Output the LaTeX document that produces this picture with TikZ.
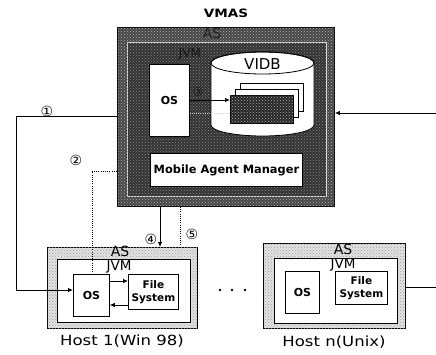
\documentclass[tikz,border=0pt]{standalone}
\usepackage{fontspec}
\setmainfont{DejaVu Sans}
\newfontfamily\widefont[FakeStretch=1.18]{DejaVu Sans}
\usetikzlibrary{arrows.meta,patterns}
\begin{document}
\begin{tikzpicture}[x=1pt,y=-1pt,
  box/.style={draw=black, line width=0.8pt, fill=white, inner sep=0pt, anchor=north west},
  darkband/.style={draw=black, line width=0.9pt, fill=black!72, inner sep=0pt, anchor=north west,
    postaction={pattern=crosshatch dots, pattern color=white!70!black}},
  darkcore/.style={draw=white!85!black, line width=0.7pt, fill=black!80, inner sep=0pt, anchor=north west,
    postaction={pattern=crosshatch dots, pattern color=white!55!black}},
  lightband/.style={draw=black, line width=0.8pt, fill=gray!22, inner sep=0pt, anchor=north west,
    postaction={pattern=crosshatch dots, pattern color=gray!80}},
  arr/.style={-{Latex[length=5pt,width=4.5pt]}, line width=0.8pt},
  dotline/.style={line width=0.7pt, dash pattern=on 1pt off 1.2pt},
  num/.style={font=\fontsize{14}{14}\selectfont, inner sep=0pt},
  lbl/.style={inner sep=0pt, align=center},
  page/.style={draw=black, line width=0.7pt, inner sep=0pt, anchor=north west}
]
\useasboundingbox (0,0) rectangle (436,354);

% ---------- VMAS server ----------
\node[lbl, font=\widefont\bfseries\fontsize{11.5}{12}\selectfont] (vmastitle) at (226,13) {VMAS};
\node[darkband, minimum width=217pt, minimum height=179pt] (vmas) at (117,27) {};
\node[darkcore, minimum width=199pt, minimum height=154pt] (vjvm) at (127,42) {};
\node[lbl, text=black!88, font=\fontsize{14}{14}\selectfont] (vas) at (212,33) {AS};
\node[lbl, text=black!92, font=\fontsize{12}{12}\selectfont] (vjvmlbl) at (190,54) {JVM};

\node[box, minimum width=40pt, minimum height=72pt] (vos) at (149,64) {};
\node[lbl, font=\bfseries\fontsize{11}{11}\selectfont] at (vos.center) {OS};

% VIDB cylinder
\draw[fill=white, line width=0.8pt] (211,63) -- (211,125)
  arc[start angle=180, end angle=360, x radius=51.5pt, y radius=11pt]
  -- (314,63) arc[start angle=0, end angle=180, x radius=51.5pt, y radius=11pt] -- cycle;
\draw[line width=0.8pt] (262.5,63) ellipse[x radius=51.5pt, y radius=11pt];
\node[lbl, font=\fontsize{15}{15}\selectfont] (vidb) at (262.5,64) {VIDB};

% stacked agent records
\node[page, fill=white, minimum width=63pt, minimum height=28pt] (pageback) at (240,83) {};
\node[page, fill=white, minimum width=63pt, minimum height=28pt] (pagemid) at (235,89) {};
\node[page, fill=black!85, minimum width=63pt, minimum height=28pt,
  postaction={pattern=crosshatch dots, pattern color=gray!60}] (pagefront) at (230,95) {};

\node[box, minimum width=152pt, minimum height=33pt] (mam) at (150,153) {};
\node[lbl, font=\bfseries\fontsize{11.4}{12}\selectfont] at (mam.center) {Mobile Agent Manager};

\coordinate (r1) at (0,100);
\coordinate (r2) at (0,113);
\draw[arr] (r1 -| vos.east) -- (r1 -| pagefront.west);
\draw[dotline, white!80!black] (r2 -| pagefront.west) -- (r2 -| vos.east);
\node[num, font=\fontsize{12}{12}\selectfont, text=black!92] (n3) at (198,92) {③};

% ---------- Host 1 ----------
\node[lightband, minimum width=150pt, minimum height=81pt] (h1as) at (47,247) {};
\node[box, line width=0.7pt, minimum width=133pt, minimum height=63pt] (h1jvm) at (57,259) {};
\node[lbl, font=\fontsize{14}{14}\selectfont] at (120,251) {AS};
\node[lbl, font=\fontsize{13.5}{14}\selectfont] at (119,267) {JVM};
\node[box, minimum width=36pt, minimum height=42pt] (h1os) at (73,274) {};
\node[lbl, font=\bfseries\fontsize{11}{11}\selectfont] at (h1os.center) {OS};
\node[box, minimum width=50pt, minimum height=35pt] (h1fs) at (128,274) {};
\node[lbl, font=\bfseries\fontsize{10.5}{13}\selectfont] at (h1fs.center) {File\\System};

\coordinate (q1) at (0,281);
\coordinate (q2) at (0,305);
\draw[arr] (q1 -| h1os.east) -- (q1 -| h1fs.west);
\draw[arr] (q2 -| h1fs.west) -- (q2 -| h1os.east);

\node[lbl, font=\widefont\fontsize{14}{14}\selectfont] (h1lbl) at (122,341) {Host 1(Win 98)};

% ---------- Host n ----------
\node[lightband, minimum width=142pt, minimum height=85pt] (hnas) at (263,243) {};
\node[box, line width=0.7pt, minimum width=123pt, minimum height=65pt] (hnjvm) at (274,258) {};
\node[lbl, font=\fontsize{14}{14}\selectfont] at (343,249) {AS};
\node[lbl, font=\fontsize{13.5}{14}\selectfont] at (343,264.5) {JVM};
\node[box, minimum width=34pt, minimum height=42pt] (hnos) at (285,271) {};
\node[lbl, font=\bfseries\fontsize{11}{11}\selectfont] at (hnos.center) {OS};
\node[box, minimum width=52pt, minimum height=33pt] (hnfs) at (335,271) {};
\node[lbl, font=\bfseries\fontsize{10.5}{13}\selectfont] at (hnfs.center) {File\\System};

\node[lbl, font=\widefont\fontsize{14}{14}\selectfont] (hnlbl) at (334,342) {Host n(Unix)};

% ellipsis between hosts
\foreach \dx in {220,232,245} \fill (\dx,290) circle[radius=1.3pt];

% ---------- connectors ----------
\coordinate (p1) at (16,116);
\coordinate (p1b) at (16,290);
\draw[arr] (p1 -| vmas.west) -- (p1) -- (p1b) -- (p1b -| h1os.west);
\node[num] (n1) at (47,111) {①};

\coordinate (p2) at (92,171);
\draw[dotline] (p2 -| vmas.west) -- (p2) -- (p2 |- h1os.north);
\node[num] (n2) at (76,160) {②};

\coordinate (p4) at (160,0);
\draw[arr] (p4 |- vmas.south) -- (p4 |- h1as.north);
\node[num] (n4) at (151,239) {④};

\coordinate (p5) at (180,0);
\draw[dotline] (p5 |- vmas.south) -- (p5 |- h1as.north);
\node[num] (n5) at (192,234) {⑤};

\coordinate (e1) at (436,113);
\draw[arr] (e1) -- (e1 -| vmas.east);
\coordinate (e2) at (436,287);
\draw[line width=0.8pt] (e2 -| hnas.east) -- (e2);
\end{tikzpicture}
\end{document}
